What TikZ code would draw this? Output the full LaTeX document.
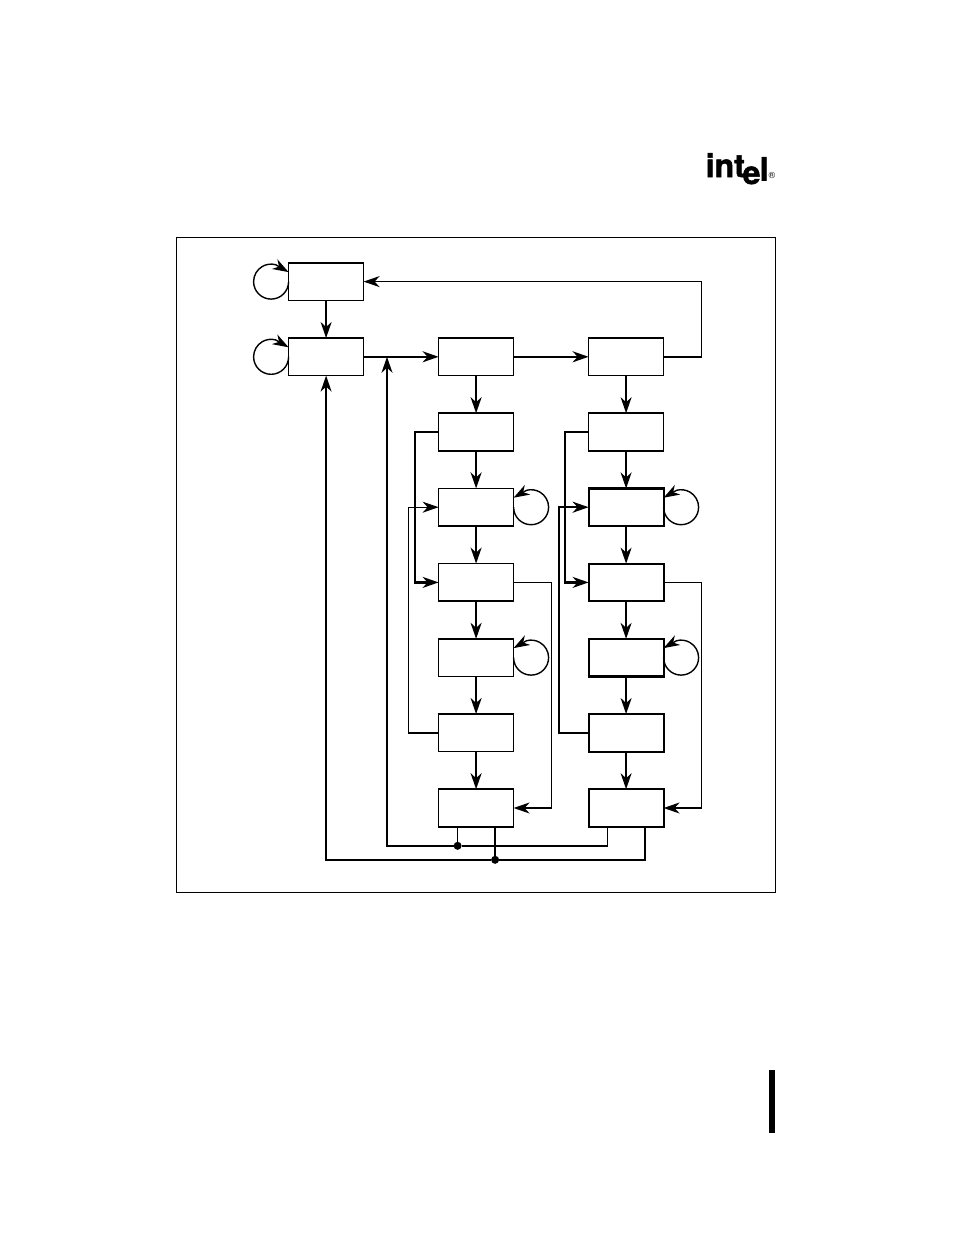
\documentclass[tikz,border=0pt]{standalone}
\usepackage{fontspec}
\setmainfont{TeX Gyre Heros}
\newfontfamily\logofont{TeX Gyre Heros}[BoldFeatures={FakeBold=1.6}]
\usetikzlibrary{arrows.meta,positioning}
\tikzset{
  st/.style   ={rectangle, draw=black, fill=white, line width=1.5pt, outer sep=0pt,
                 minimum width=75pt, minimum height=37.6pt, inner sep=0pt},
  stB/.style  ={st, line width=2.2pt},
  frame/.style={rectangle, draw=black, line width=1pt, outer sep=0pt, inner sep=0pt,
                 minimum width=599pt, minimum height=655pt},
  fl/.style   ={-{Stealth[length=16pt, width=11pt, inset=5pt]}, line width=1.4pt, draw=black},
  flB/.style  ={fl, line width=2.2pt},
  ln/.style   ={line width=1.4pt, draw=black},
  dot/.style  ={circle, fill=black, inner sep=0pt, minimum size=8pt, outer sep=0pt},
  logo/.style ={font=\fontsize{32}{32}\logofont\bfseries, inner sep=0pt, anchor=base west},
}
\begin{document}
\begin{tikzpicture}[x=1pt, y=1pt, node distance=37.6pt and 75pt]
\useasboundingbox (0,0) rectangle (954,-1235);
\node[frame] (fr) at (476,-564.7) {};
% logo and margin bar
\node[logo] (la) at (705.5,-177) {int};
\node[logo] (lb) at (742.5,-184) {e};
\node[logo] (lc) at (759.5,-180.5) {l};
\node[inner sep=0pt, font=\fontsize{9}{9}\selectfont] (lr) at (772,-175) {®};
\fill[black] (769,-1070) rectangle (775,-1133);
% state boxes
\node[st] (a) at (326.1,-281.6) {};
\node[st, below=of a] (b) {};
\node[st, right=of b] (c) {};
\node[st, right=of c] (d) {};
\node[st, below=of c] (e) {};
\node[st, below=of e] (f) {};
\node[st, below=of f] (g) {};
\node[st, below=of g] (h) {};
\node[st, below=of h] (j) {};
\node[st, below=of j] (k) {};
\node[st, below=of d] (m) {};
\node[stB, below=of m] (n) {};
\node[stB, below=of n] (p) {};
\node[stB, below=of p] (q) {};
\node[stB, below=of q] (r) {};
\node[stB, below=of r] (s) {};
% straight runs
\foreach \x/\y in {a/b, d/m, m/n, n/p, p/q, q/r, r/s}
  \draw[fl] (\x) -- (\y);
\foreach \x/\y in {b/c, c/d, c/e, e/f, f/g, g/h, h/j, j/k}
  \draw[flB] (\x) -- (\y);
% self loops
\foreach \x in {a,b}
  \draw[fl] (\x.west) arc[start angle=0, end angle=-285, radius=17.5pt] -- ([yshift=9.5pt]\x.west);
\foreach \x in {f,h,n,q}
  \draw[fl] (\x.east) arc[start angle=180, end angle=465, radius=17.5pt] -- ([yshift=9.5pt]\x.east);
% return paths
\draw[fl] (d.east) -- ++(38,0) |- (a.east);
\draw[flB] (e.west) -- ++(-23.5,0) |- (g.west);
\draw[fl] (j.west) -- ++(-30,0) |- (f.west);
\draw[fl] (g.east) -- ++(38,0) |- (k.east);
\draw[flB] (m.west) -- ++(-23.5,0) |- (p.west);
\draw[flB] (r.west) -- ++(-30,0) |- (n.west);
\draw[fl] (p.east) -- ++(38,0) |- (s.east);
% bus lines
\coordinate (jn) at (387,-356.8);
\node[dot, xshift=-18.5pt, yshift=-19pt] (da) at (k.south) {};
\node[dot, xshift=19pt, yshift=-33pt] (db) at (k.south) {};
\draw[ln] ([xshift=-18.5pt]k.south) -- (da);
\draw[ln] ([xshift=19pt]k.south) -- (db);
\draw[fl] ([xshift=-18.5pt]s.south) |- (da) -| (jn);
\draw[fl] ([xshift=19pt]s.south) |- (db) -| (b.south);
\end{tikzpicture}
\end{document}
